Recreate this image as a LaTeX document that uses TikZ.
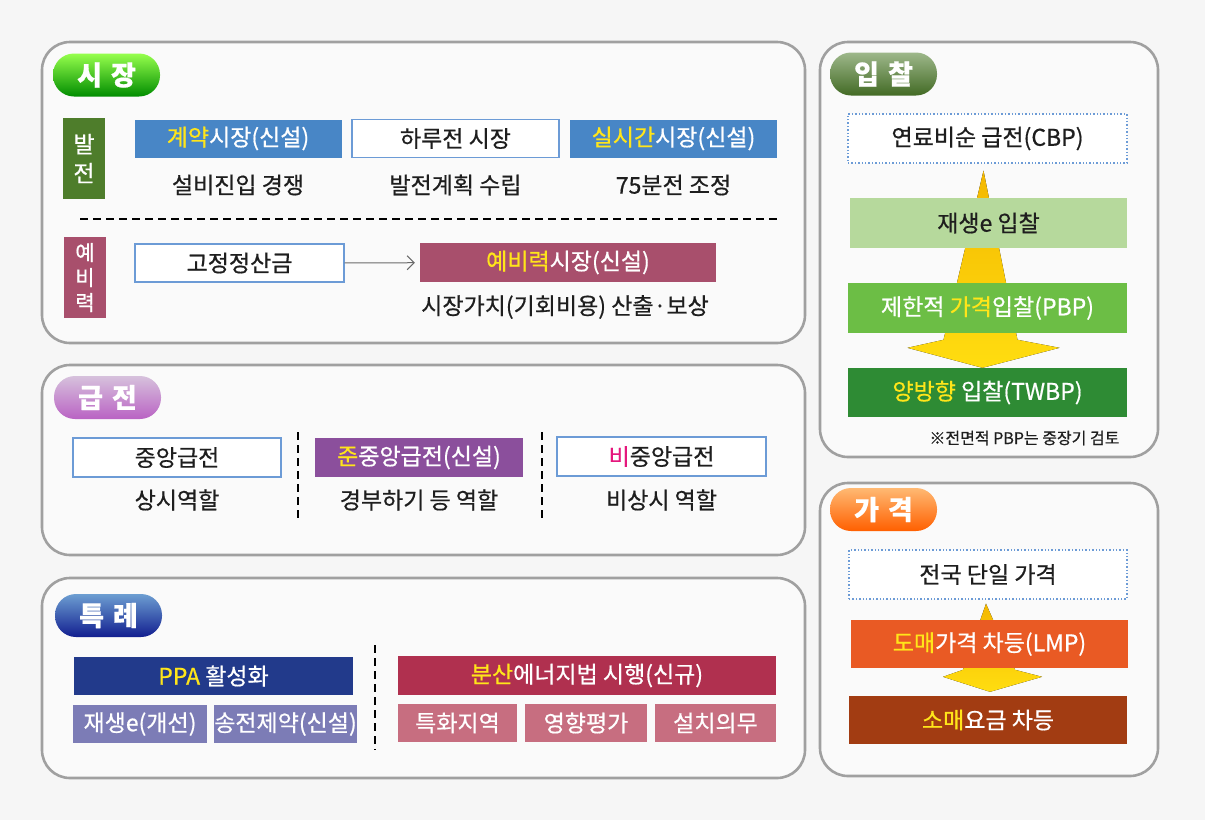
\documentclass[tikz,border=0pt]{standalone}
\usepackage{fontspec}
\setmainfont{Noto Sans CJK KR}[FakeBold=0.6]
\usetikzlibrary{positioning,calc,arrows.meta}
\definecolor{bgPage}{HTML}{F6F6F6}
\definecolor{pnlFill}{HTML}{FAFAFA}
\definecolor{pnlLine}{HTML}{A0A0A0}
\definecolor{txtDark}{HTML}{1E1E1E}
\definecolor{boxLine}{HTML}{6C9BD6}
\definecolor{hlYellow}{HTML}{FFE51A}
\definecolor{hlPink}{HTML}{E5177D}
\definecolor{mktBlue}{HTML}{4886C6}
\definecolor{devGreen}{HTML}{4E7D2B}
\definecolor{resMauve}{HTML}{A84F6C}
\definecolor{semiPurple}{HTML}{8B4F9C}
\definecolor{ppaNavy}{HTML}{223A8B}
\definecolor{ppaLav}{HTML}{7C7CB6}
\definecolor{deraRed}{HTML}{B0304F}
\definecolor{deraPink}{HTML}{C76E80}
\definecolor{rebGreen}{HTML}{B6D99C}
\definecolor{pbpGreen}{HTML}{6CBE45}
\definecolor{twbpGreen}{HTML}{2E8B34}
\definecolor{lmpOrange}{HTML}{E95A24}
\definecolor{retailBrown}{HTML}{A23C12}
\definecolor{arrTop}{HTML}{F4B800}
\definecolor{arrBot}{HTML}{FFDD10}
\definecolor{arrGray}{HTML}{6A6A6A}

\tikzset{
  panel/.style={draw=pnlLine, line width=2.6pt, fill=pnlFill, rounded corners=28pt},
  badge/.style={rounded corners=21pt, minimum width=107pt, minimum height=43pt,
    inner sep=0pt, text=white, font=\fontsize{27}{27}\selectfont\bfseries},
  box/.style={minimum height=38pt, inner sep=0pt, text=white,
    font=\fontsize{23}{25}\selectfont},
  wbox/.style={box, draw=boxLine, line width=1.2pt, fill=white, text=txtDark},
  mbox/.style={box, fill=mktBlue},
  dbox/.style={box, draw=boxLine, dotted, line width=1.4pt, fill=white,
    text=txtDark, minimum height=49pt},
  sub/.style={text=txtDark, font=\fontsize{23}{25}\selectfont},
  side/.style={minimum width=42pt, minimum height=81pt, inner sep=0pt,
    text=white, align=center},
  sep/.style={line width=2.6pt, dash pattern=on 8pt off 5pt},
  goldarrow/.style={top color=arrTop, bottom color=arrBot},
}
\newcommand{\hl}[1]{\textcolor{hlYellow}{#1}}

\begin{document}
\begin{tikzpicture}[x=1pt, y=-1pt]

% --- PAGE + PANELS ---
\fill[bgPage] (0,0) rectangle (1205,820);
\useasboundingbox (0,0) rectangle (1205,820);
\draw[panel] (42,42) rectangle (805,343);
\draw[panel] (42,365) rectangle (805,555);
\draw[panel] (42,578) rectangle (805,778);
\draw[panel] (820,42) rectangle (1158,457);
\draw[panel] (820,483) rectangle (1158,776);

% --- BADGES ---
\node[badge, top color=green!45!lime!70!white, bottom color=green!55!black]
  (bMarket) at (106.5,75) {시\,\,장};
\node[badge, top color=semiPurple!35!white, bottom color=semiPurple!75!magenta!80!white]
  (bDispatch) at (107.5,397.5) {급\,\,전};
\node[badge, top color=mktBlue!80!white, bottom color=blue!35!ppaNavy!80!black]
  (bSpecial) at (108.5,615.5) {특\,\,례};
\node[badge, top color=devGreen!55!white, bottom color=devGreen!85!black]
  (bBid) at (883.5,74) {입\,\,찰};
\node[badge, top color=orange!55!white, bottom color=orange!75!red]
  (bPrice) at (883.5,509.5) {가\,\,격};

% --- MARKET: generation row ---
\node[side, fill=devGreen, font=\fontsize{23}{29}\selectfont]
  (sideDev) at (84,158.5) {발\\전};
\foreach \nm/\cx/\lbl/\sty/\subl in {%
    ctr/238/{\hl{계약}시장(신설)}/mbox/설비진입 경쟁,%
    dam/455.5/{하루전 시장}/wbox/발전계획 수립,%
    rt/673.5/{\hl{실시간}시장(신설)}/mbox/75분전 조정} {
  \node[\sty, minimum width=207pt] (\nm) at (\cx,138.5) {\lbl};
  \node[sub] (\nm Sub) at (\cx,185) {\subl};
}
\draw[sep] (80,219) -- (778,219);

% --- MARKET: reserve row ---
\node[side, fill=resMauve, font=\fontsize{21}{25}\selectfont]
  (sideRes) at (85,277.5) {예\\비\\력};
\node[wbox, minimum width=209pt] (fixed) at (239.5,263) {고정정산금};
\node[box, fill=resMauve, minimum width=296pt, minimum height=39pt]
  (resm) at (568,262.5) {\hl{예비력}시장(신설)};
\node[sub] (resmSub) at (565,307) {시장가치(기회비용) 산출·보상};
\draw[arrGray, line width=1pt, -{Straight Barb[length=7pt,width=14pt]},
  shorten >=5pt] (fixed) -- (resm);

% --- DISPATCH ---
\node[wbox, minimum width=208pt, minimum height=39pt] (central) at (177,457.5) {중앙급전};
\node[box, fill=semiPurple, minimum width=208pt, minimum height=39pt]
  (semi) at (419,457.5) {\hl{준}중앙급전(신설)};
\node[wbox, minimum width=209pt, minimum height=39pt]
  (noncen) at (661.5,456.5) {\textcolor{hlPink}{비}중앙급전};
\node[sub] (centralSub) at (177,500) {상시역할};
\node[sub] (semiSub) at (419,500) {경부하기 등 역할};
\node[sub] (noncenSub) at (661.5,500) {비상시 역할};
\draw[sep] (298,432) -- (298,520);
\draw[sep] (542,432) -- (542,520);

% --- SPECIAL CASES ---
\node[box, fill=ppaNavy, minimum width=279pt] (ppa) at (213.5,676) {\hl{PPA} 활성화};
\node[box, fill=ppaLav, minimum width=134pt] (renew) at (140,724) {재생e(개선)};
\node[box, fill=ppaLav, minimum width=135pt] (gridc) at (285.5,724) {송전제약(신설)};
\draw[sep] (375,645) -- (375,750);
\node[box, fill=deraRed, minimum width=378pt, minimum height=39pt]
  (dera) at (587,675.5) {\hl{분산}에너지법 시행(신규)};
\node[box, fill=deraPink, minimum width=119pt] (zone) at (457.5,723) {특화지역};
\node[box, fill=deraPink, minimum width=122pt] (impact) at (586,723) {영향평가};
\node[box, fill=deraPink, minimum width=121pt] (install) at (715.5,723) {설치의무};

% --- BIDDING ---
\node[dbox, minimum width=279pt] (cbp) at (987.5,138.5) {연료비순 급전(CBP)};
\node[box, fill=twbpGreen, minimum width=279pt, minimum height=49pt]
  (twbp) at (987.5,392.5) {\hl{양방향} 입찰(TWBP)};
\fill[goldarrow] ($(cbp.south)+(-4,7)$) -- ($(twbp.north)+(30,-28)$)
  -- ($(twbp.north)+(72,-20)$) -- ($(twbp.north)+(-5,0)$)
  -- ($(twbp.north)+(-80,-20)$) -- ($(twbp.north)+(-44,-28)$) -- cycle;
\node[box, fill=rebGreen, text=txtDark, minimum width=277pt, minimum height=50pt]
  (reb) at (988.5,223) {재생e 입찰};
\node[box, fill=pbpGreen, minimum width=279pt, minimum height=50pt]
  (pbp) at (987.5,308) {제한적 \hl{가격}입찰(PBP)};
\node[anchor=east, text=txtDark, font=\fontsize{16}{17}\selectfont]
  (bidNote) at (1123,438) {※전면적 PBP는 중장기 검토};

% --- PRICE ---
\node[dbox, minimum width=278pt] (single) at (988,574.5) {전국 단일 가격};
\node[box, fill=retailBrown, minimum width=278pt, minimum height=48pt]
  (retail) at (988,720) {\hl{소매}요금 차등};
\fill[goldarrow] ($(single.south)+(-2,4)$) -- ($(retail.north)+(27,-26)$)
  -- ($(retail.north)+(54,-19)$) -- ($(retail.north)+(2,-4)$)
  -- ($(retail.north)+(-45,-19)$) -- ($(retail.north)+(-25,-26)$) -- cycle;
\node[box, fill=lmpOrange, minimum width=277pt, minimum height=48pt]
  (lmp) at (989.5,644) {\hl{도매}가격 차등(LMP)};

\end{tikzpicture}
\end{document}
